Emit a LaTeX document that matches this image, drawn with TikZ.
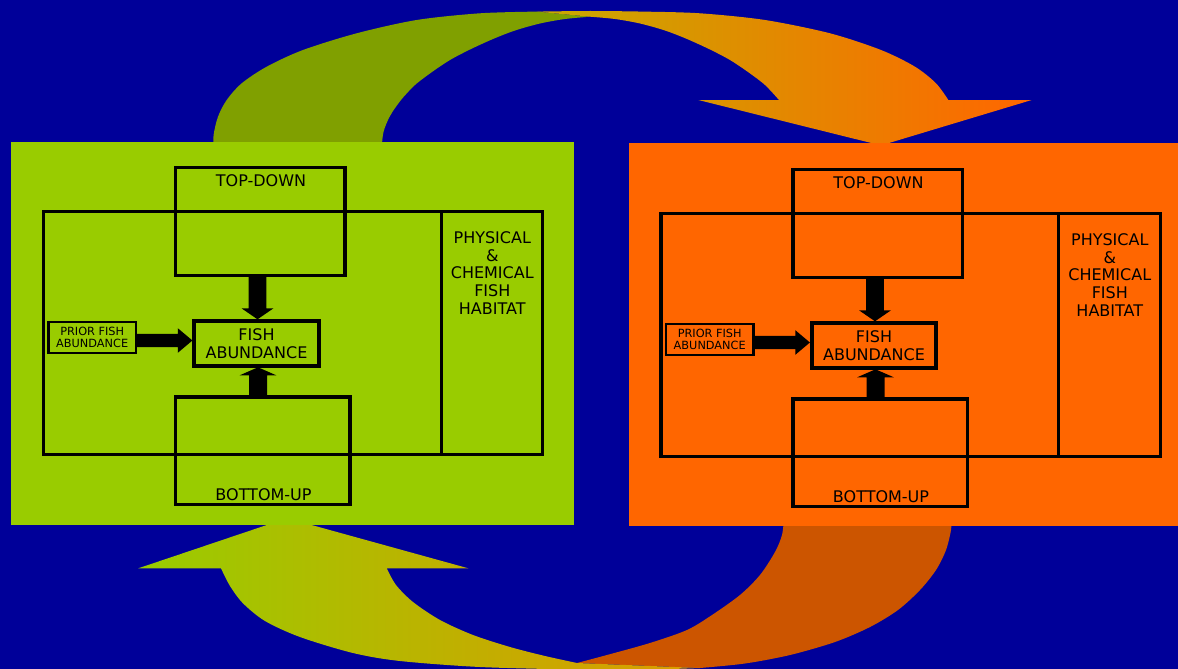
\documentclass[tikz,border=0pt]{standalone}
\usepackage{fontspec}
\setmainfont{DejaVu Sans}
\usetikzlibrary{calc}
\definecolor{bgblue}{RGB}{0,0,153}
\definecolor{panelgreen}{RGB}{153,204,0}
\definecolor{panelorange}{RGB}{255,102,0}
\definecolor{tailgreen}{RGB}{128,160,0}
\definecolor{tailorange}{RGB}{204,85,0}
\definecolor{headgold}{RGB}{200,170,0}
\definecolor{headgoldb}{RGB}{220,155,0}
\tikzset{
  frame/.style={draw=black, line width=3.3pt, inner sep=0pt, outer sep=0pt},
  fishbox/.style={frame, line width=4pt},
  priorbox/.style={frame, line width=2.8pt},
  bigtxt/.style={font=\fontsize{16}{17.6}\selectfont, align=center, inner sep=0pt, text=black},
  smalltxt/.style={font=\fontsize{11.3}{12.5}\selectfont, align=center, inner sep=0pt, text=black},
  blockarrow/.style={fill=black},
}
\begin{document}
\begin{tikzpicture}[x=1pt,y=-1pt]
\useasboundingbox (0,0) rectangle (1178,669);
\fill[bgblue] (0,0) rectangle (1178,669);
% top curved arrow: tail
\fill[tailgreen] plot[smooth] coordinates {(213.4,150) (213.6,135) (218,116.7) (226.7,100) (241.7,83.3) (266.7,66.7) (303,50) (356.7,33.3) (416.7,20) (480,13.3) (536.7,11.6)}
  -- plot[smooth] coordinates {(590,16.7) (565,19) (540,23.5) (515,30.5) (493,39) (470,49.5) (450,60) (432,72) (415,85) (401,100) (390,116) (383.5,132) (381.5,150)} -- cycle;
% top curved arrow: head
\shade[left color=headgold, right color=panelorange] plot[smooth] coordinates {(536.7,11.6) (590,11) (643,11.6) (700,13.3) (765,20) (830,33.3) (881,50) (915,66.7) (936,83.3) (948.3,100)}
  -- (1031.7,100) -- (881,145.4) -- (698.3,100)
  -- plot[smooth] coordinates {(779,100) (765,85) (748,72) (730,60) (710,49.5) (687,39) (665,30.5) (640,23.5) (615,19) (590,16.7)} -- cycle;
% bottom curved arrow: tail
\fill[tailorange] plot[smooth] coordinates {(951.3,518) (951,530) (946,550) (936,570) (920,590) (898,610) (870,627) (835,642) (790,655) (745,663.5) (700,668)}
  -- plot[smooth] coordinates {(577,663) (607,655) (650,643) (687,630) (712,615) (740,595) (760,575) (775,552) (782,535) (784,518)} -- cycle;
% bottom curved arrow: head
\shade[left color=panelgreen, right color=headgoldb] plot[smooth] coordinates {(577,663) (545,656) (510,647) (473,635) (440,620) (413,602) (396,585) (386.7,568.3)}
  -- (468.3,568.3) -- (287,518.2) -- (138.3,568.3)
  -- plot[smooth] coordinates {(221,568.3) (230,586) (243,603.3) (265,621) (300,637) (353,653) (400,661) (480,667) (577,669.5) (650,669.5) (700,668)} -- cycle;
% panels
\fill[panelgreen] (11,142) rectangle (574,524.5);
\fill[panelorange] (628.5,143) rectangle (1178,525.5);
\foreach \p/\dx/\dy in {L/0/0,R/617.5/2}{
  \begin{scope}[shift={(\dx,\dy)}]
    \node[frame, minimum width=499.2pt, minimum height=243pt] (\p out) at (293.1,332.8) {};
    \draw[line width=3.3pt] ($(\p out.north west)+(397.8,0)$) -- ($(\p out.south west)+(397.8,0)$);
    \node[frame, minimum width=169.7pt, minimum height=108.2pt] (\p td) at (260.25,221.6) {};
    \node[frame, minimum width=174.6pt, minimum height=107.7pt] (\p bu) at (262.7,450.85) {};
    \node[fishbox, bigtxt, minimum width=124.2pt, minimum height=45pt] (\p fish) at (256.5,343.8) {FISH\\ABUNDANCE};
    \node[priorbox, smalltxt, minimum width=87.4pt, minimum height=31pt] (\p prior) at (92.2,337.5) {PRIOR FISH\\ABUNDANCE};
    \node[bigtxt] (\p tdl) at (261,181) {TOP-DOWN};
    \node[bigtxt] (\p bul) at (263.5,494.2) {BOTTOM-UP};
    \node[bigtxt] (\p hab) at (492.3,273) {PHYSICAL\\\&\\CHEMICAL\\FISH\\HABITAT};
    % down arrow
    \coordinate (\p dtip) at ($(\p fish.north)+(1,-2)$);
    \coordinate (\p dtop) at (\p td.south -| \p dtip);
    \fill[blockarrow] ($(\p dtop)+(-8.8,0)$) -- ($(\p dtip)+(-8.8,-11)$) -- ($(\p dtip)+(-16,-11)$) -- (\p dtip)
      -- ($(\p dtip)+(16,-11)$) -- ($(\p dtip)+(8.8,-11)$) -- ($(\p dtop)+(8.8,0)$) -- cycle;
    % up arrow
    \coordinate (\p utip) at ($(\p fish.south)+(1.5,1)$);
    \coordinate (\p ubot) at (\p bu.north -| \p utip);
    \fill[blockarrow] ($(\p ubot)+(-9,0)$) -- ($(\p utip)+(-9,8)$) -- ($(\p utip)+(-18.3,8)$) -- (\p utip)
      -- ($(\p utip)+(18.3,8)$) -- ($(\p utip)+(9,8)$) -- ($(\p ubot)+(9,0)$) -- cycle;
    % right arrow
    \coordinate (\p rtip) at ($(\p fish.west)+(-2,-3.3)$);
    \coordinate (\p rstart) at (\p prior.east |- \p rtip);
    \fill[blockarrow] ($(\p rstart)+(0,-6.65)$) -- ($(\p rtip)+(-14.6,-6.65)$) -- ($(\p rtip)+(-14.6,-12.3)$) -- (\p rtip)
      -- ($(\p rtip)+(-14.6,12.3)$) -- ($(\p rtip)+(-14.6,6.65)$) -- ($(\p rstart)+(0,6.65)$) -- cycle;
  \end{scope}
}
\end{tikzpicture}
\end{document}
